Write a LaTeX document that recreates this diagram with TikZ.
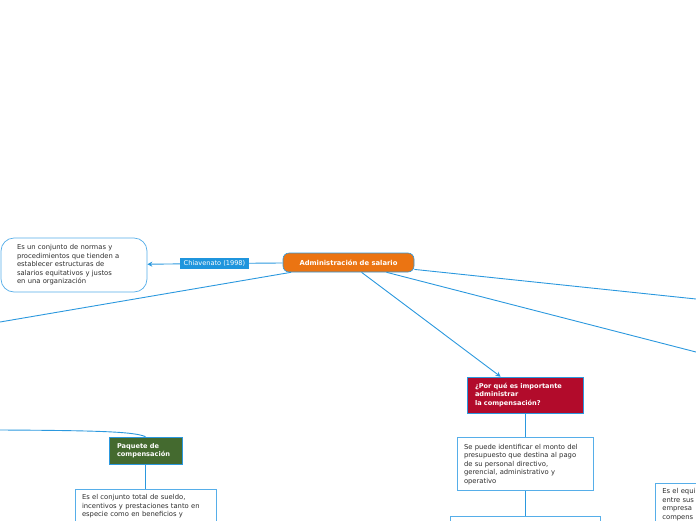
\documentclass[tikz,border=0pt]{standalone}
\usepackage{fontspec}
\newfontfamily\mapfont{DejaVu Sans}
\usetikzlibrary{arrows.meta,calc,positioning}
\definecolor{linkblue}{HTML}{2B98DE}
\definecolor{boxblue}{HTML}{56AEE9}
\definecolor{rootorange}{HTML}{EB7412}
\definecolor{topicred}{HTML}{B20B2B}
\definecolor{topicgreen}{HTML}{446A2F}
\definecolor{tagblue}{HTML}{1F95DD}
\definecolor{textgray}{HTML}{2E2E2E}
\tikzset{
  link/.style      = {draw=linkblue, line width=0.9pt},
  linkarrow/.style = {link, -{Stealth[length=5pt,width=5pt]}},
  root/.style      = {rectangle, rounded corners=6pt, fill=rootorange, draw=linkblue,
                      line width=0.6pt, text=white, inner sep=0pt,
                      font=\mapfont\bfseries\fontsize{6.8}{8}\selectfont,
                      minimum width=131pt, minimum height=19pt},
  tag/.style       = {rectangle, fill=tagblue, text=white, inner sep=0pt,
                      font=\mapfont\fontsize{6.6}{7.5}\selectfont,
                      minimum width=69pt, minimum height=11pt},
  topic/.style     = {rectangle, draw=linkblue, line width=0.6pt, text=white,
                      font=\mapfont\bfseries\fontsize{6.6}{8.5}\selectfont,
                      align=left, inner xsep=8pt, inner ysep=0pt},
  notebox/.style   = {rectangle, draw=boxblue, line width=0.7pt, fill=white,
                      text=textgray, font=\mapfont\fontsize{6.8}{8.5}\selectfont,
                      align=left, inner xsep=7pt, inner ysep=0pt},
}

\begin{document}
\begin{tikzpicture}[x=1pt,y=-1pt]
  \useasboundingbox (0,0) rectangle (696,520);
  \clip (0,0) rectangle (696,520);

  % ---- root and definition -------------------------------------------------
  \node[root] (root) at (348.5,262.5) {Administración de salario};
  \node[tag] (chiav) at (214.5,263.5) {Chiavenato (1998)};
  \node[notebox, rounded corners=13pt, text width=114pt, minimum width=146pt,
        minimum height=54pt, inner xsep=16pt] (defin) at (74,265)
    {Es un conjunto de normas y\\procedimientos que tienden a\\establecer estructuras de\\salarios equitativos y justos\\en una organización};

  % ---- why it matters --------------------------------------------------------
  \node[topic, fill=topicred, text width=100pt, minimum height=36pt] (why) at (525,395)
    {¿Por qué es importante\\administrar\\la compensación?};
  \node[notebox, text width=122pt, minimum height=53pt, below=24pt of why] (budget)
    {Se puede identificar el monto del\\presupuesto que destina al pago\\de su personal directivo,\\gerencial, administrativo y\\operativo};
  \node[notebox, minimum width=150pt, minimum height=40pt, below=25pt of budget] (budgetnext) {};

  % ---- compensation package ------------------------------------------------
  \node[topic, fill=topicgreen, text width=57pt, minimum height=27pt] (pack) at (145.5,450.5)
    {Paquete de\\compensación};
  \node[notebox, text width=127pt, inner ysep=5pt, below=25pt of pack] (packdef)
    {Es el conjunto total de sueldo,\\incentivos y prestaciones tanto en\\especie como en beneficios y\\\mbox{}\\\mbox{}};

  % ---- right side (cut off) ------------------------------------------------
  \node[topic, fill=topicred!40!black, minimum width=60pt, minimum height=22pt,
        anchor=west] (rtopic) at (695.5,449) {};
  \node[notebox, text width=100pt, inner ysep=5pt, anchor=north west] (rnote) at (655,483)
    {Es el equi\\entre sus\\empresa\\compens\\\mbox{}};

  % ---- off-page ends ---------------------------------------------------------
  \coordinate (offW)  at (0,322);
  \coordinate (offW2) at (0,430);
  \coordinate (offE1) at (696,299);
  \coordinate (offE2) at (696,352);

  % ---- connectors ------------------------------------------------------------
  \draw[link] (root) -- (chiav);
  \draw[linkarrow] (chiav) -- (defin);
  \draw[link] (root) -- (offW);
  \draw[linkarrow] (root) -- (why);
  \draw[link] (root) -- (offE1);
  \draw[link] (root) -- (offE2);
  \draw[link] (why) -- (budget);
  \draw[link] (budget) -- (budgetnext);
  \draw[link] (offW2) .. controls (105,430.5) and (135,432) .. (pack.north);
  \draw[link] (pack) -- (packdef);
\end{tikzpicture}
\end{document}
